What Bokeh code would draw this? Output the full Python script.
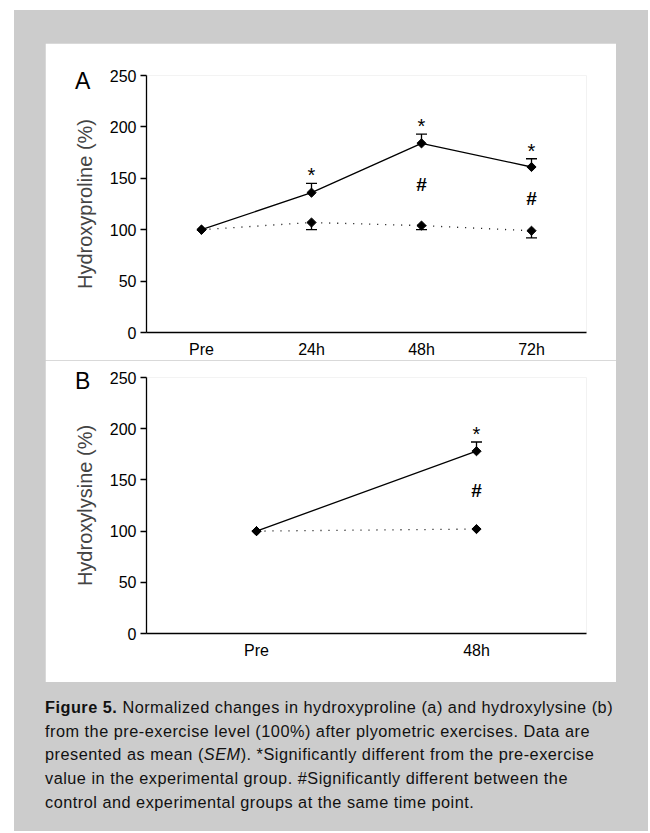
import numpy as np
from bokeh.plotting import figure
from bokeh.models import (FixedTicker, Whisker, TeeHead, ColumnDataSource, Label,
                          Div, Spacer)
from bokeh.layouts import column, row
from bokeh.core.properties import value
from bokeh.embed import file_html
from bokeh.resources import INLINE

FONT = "Liberation Sans"

# ---------------- data ----------------
times_A = ["Pre", "24h", "48h", "72h"]
exp_A = [100, 136, 184, 161]
exp_A_sem = [0, 9, 9, 8]
ctl_A = [100, 107, 104, 99]
ctl_A_sem = [0, 7, 4, 7]
star_A = [False, True, True, True]
hash_A = [False, False, True, True]

times_B = ["Pre", "48h"]
exp_B = [100, 178]
exp_B_sem = [0, 9]
ctl_B = [100, 102]
ctl_B_sem = [0, 0]
star_B = [False, True]
hash_B = [False, True]

y_ticks = [0, 50, 100, 150, 200, 250]


def make_panel(times, exp, exp_sem, ctl, ctl_sem, star, hsh, ylabel, letter,
               letter_x, letter_y, frame_h, top, bottom):
    n = len(times)
    x = list(range(n))
    p = figure(frame_width=440, frame_height=frame_h,
               x_range=(-0.5, n - 0.5), y_range=(0, 250),
               output_backend="svg", toolbar_location=None,
               min_border_left=101, min_border_right=30,
               min_border_top=top, min_border_bottom=bottom,
               background_fill_color="white", border_fill_color="white")
    p.outline_line_color = None
    p.xgrid.visible = False
    p.ygrid.visible = False

    # axes
    p.yaxis.ticker = FixedTicker(ticks=y_ticks)
    p.yaxis.minor_tick_line_color = None
    p.yaxis.major_tick_out = 6
    p.yaxis.major_tick_in = 0
    p.yaxis.major_label_standoff = 4
    p.yaxis.axis_label = ylabel
    p.yaxis.axis_label_text_font = FONT
    p.yaxis.axis_label_text_font_size = "20px"
    p.yaxis.axis_label_text_font_style = "normal"
    p.yaxis.axis_label_standoff = 11
    p.xaxis.ticker = FixedTicker(ticks=x)
    p.xaxis.major_label_overrides = {i: t for i, t in enumerate(times)}
    p.xaxis.minor_tick_line_color = None
    p.xaxis.major_tick_out = 0
    p.xaxis.major_tick_in = 0
    p.xaxis.major_label_standoff = 8
    for ax in (p.xaxis, p.yaxis):
        ax.major_label_text_font = FONT
        ax.major_label_text_font_size = "16px"
        ax.major_label_text_color = "black"
        ax.axis_line_color = "black"
        ax.axis_line_width = 1.3
        ax.major_tick_line_color = "black"
        ax.major_tick_line_width = 1.3

    # control (dotted)
    p.line(x, ctl, line_color="black", line_width=1.3, line_dash="1 7")
    # experimental (solid)
    p.line(x, exp, line_color="black", line_width=1.3)

    # error bars
    ex = [i for i in x if exp_sem[i] > 0]
    if ex:
        src = ColumnDataSource(dict(x=ex, lo=[exp[i] for i in ex],
                                    up=[exp[i] + exp_sem[i] for i in ex]))
        p.add_layout(Whisker(source=src, base="x", lower="lo", upper="up",
                             dimension="height", line_color="black", line_width=1.3,
                             upper_head=TeeHead(size=11, line_color="black", line_width=1.3),
                             lower_head=None))
    cx = [i for i in x if ctl_sem[i] > 0]
    if cx:
        src = ColumnDataSource(dict(x=cx, up=[ctl[i] for i in cx],
                                    lo=[ctl[i] - ctl_sem[i] for i in cx]))
        p.add_layout(Whisker(source=src, base="x", lower="lo", upper="up",
                             dimension="height", line_color="black", line_width=1.3,
                             lower_head=TeeHead(size=11, line_color="black", line_width=1.3),
                             upper_head=None))

    # markers (diamonds)
    p.scatter(x, ctl, marker="square", size=6.5, angle=np.pi / 4,
              fill_color="black", line_color="black")
    p.scatter(x, exp, marker="square", size=6.5, angle=np.pi / 4,
              fill_color="black", line_color="black")

    # significance marks
    sx = [i for i in x if star[i]]
    p.text(sx, [exp[i] + exp_sem[i] + 8 for i in sx], text=["*"] * len(sx),
           text_font=value(FONT), text_font_size="20px", text_align="center",
           text_baseline="alphabetic", text_color="black")
    hx = [i for i in x if hsh[i]]
    p.text(hx, [(exp[i] + ctl[i]) / 2 for i in hx], text=["#"] * len(hx),
           text_font=value(FONT), text_font_size="19px", text_font_style="bold",
           text_align="center", text_baseline="middle", text_color="black")

    # panel letter, placed in the left side panel so it is not clipped to the frame
    p.add_layout(Label(x=letter_x, y=letter_y, text=letter, text_font=FONT,
                       text_font_size="23px", text_align="center",
                       text_baseline="alphabetic", text_color="black"), "left")
    return p


pA = make_panel(times_A, exp_A, exp_A_sem, ctl_A, ctl_A_sem, star_A, hash_A,
                "Hydroxyproline (%)", "A", -1.08, 244.5, 257, 32, 27)
pB = make_panel(times_B, exp_B, exp_B_sem, ctl_B, ctl_B_sem, star_B, hash_B,
                "Hydroxylysine (%)", "B", -0.79, 246.5, 256, 17, 49)

caption = Div(
    text=("<b>Figure 5.</b> Normalized changes in hydroxyproline (a) and hydroxylysine (b)<br>"
          "from the pre-exercise level (100%) after plyometric exercises. Data are<br>"
          "presented as mean (<i>SEM</i>). *Significantly different from the pre-exercise<br>"
          "value in the experimental group. #Significantly different between the<br>"
          "control and experimental groups at the same time point."),
    width=590, height=119, margin=(0, 0, 0, 0),
    styles={"font-family": "'Liberation Sans', Arial, sans-serif",
            "font-size": "16.3px", "line-height": "23.7px", "color": "#111111",
            "letter-spacing": "0.5px", "white-space": "nowrap"})

white_panel = column(pA, pB)
gray_box = column(
    Spacer(width=634, height=33),
    row(Spacer(width=31, height=638), white_panel, Spacer(width=32, height=638)),
    Spacer(width=634, height=14),
    row(Spacer(width=31, height=119), caption),
    Spacer(width=634, height=16),
    styles={"background-color": "#cccccc"})

page = column(Spacer(width=650, height=10),
              row(Spacer(width=14, height=820), gray_box))

open("out.html", "w").write(file_html(page, INLINE))
